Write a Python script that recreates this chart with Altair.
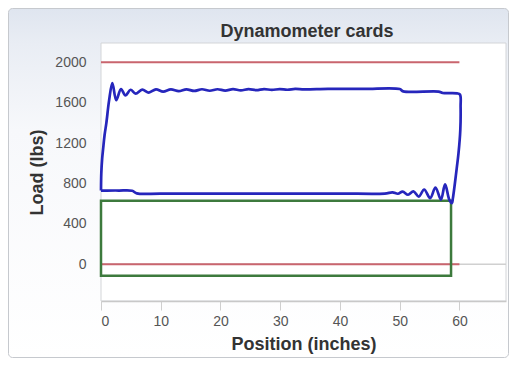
import altair as alt
import pandas as pd

# ---------------- data ----------------
title_text = "Dynamometer cards"
x_title = "Position (inches)"
y_title = "Load (lbs)"
x_ticks = [0, 10, 20, 30, 40, 50, 60]
y_ticks = [0, 400, 800, 1200, 1600, 2000]

# dynamometer card (closed loop, in drawing order)
card_x = [0.0, 0.05, 0.2, 0.35, 0.6, 0.9, 1.35, 1.9,
          2.55, 3.35, 4.1, 4.95, 5.8, 6.9, 8.0, 9.2, 10.4, 11.7, 13.0, 14.3,
          15.6, 16.9, 18.2, 19.5, 20.8, 22.1, 23.4, 24.7, 26.0, 27.3, 28.6,
          29.9, 31.2, 32.5, 34.0, 38.0, 44.0, 50.0, 50.6, 56.5, 57.2, 59.6,
          60.1, 60.2, 60.15, 59.85, 59.55, 59.2, 58.9, 58.75,
          58.3, 57.6, 56.9, 56.0, 55.1, 54.1, 53.2, 52.3, 51.4, 50.5, 49.7,
          48.8, 47.5, 40.0, 30.0, 20.0, 10.0, 6.0, 5.2, 3.0, 1.0, 0.0]
card_y = [730, 900, 1050, 1140, 1280, 1400, 1620, 1795,
          1625, 1735, 1672, 1728, 1690, 1730, 1700, 1732, 1710, 1732, 1714, 1732,
          1716, 1733, 1718, 1733, 1720, 1734, 1722, 1734, 1724, 1735, 1726,
          1735, 1728, 1736, 1732, 1736, 1736, 1735, 1712, 1710, 1696, 1692,
          1680, 1560, 1330, 1100, 950, 780, 650, 605,
          640, 790, 640, 760, 655, 740, 670, 722, 688, 720, 698,
          712, 700, 700, 700, 700, 700, 702, 728, 730, 730, 730]

limit_x = [0, 60]
limit_loads = [2000, 0]

box_x = [0, 58.6]
box_y = [-115, 630]

# ---------------- layout ----------------
W, H = 405, 258
PAD = {"left": 93, "top": 35, "right": 3, "bottom": 57}
X_DOMAIN = [0, 67.8]
Y_DOMAIN = [-364, 2191]
FONT = "Liberation Sans"

card = pd.DataFrame({"x": card_x, "y": card_y, "i": list(range(len(card_x)))})
limits = pd.DataFrame(
    [{"x": xv, "y": load, "g": str(load)} for load in limit_loads for xv in limit_x]
)
box = pd.DataFrame({"x": [box_x[0]], "x2": [box_x[1]], "y": [box_y[0]], "y2": [box_y[1]]})
one = pd.DataFrame({"a": [0]})
title_df = pd.DataFrame({"t": [title_text]})

xs = alt.Scale(domain=X_DOMAIN, nice=False, zero=False)
ys = alt.Scale(domain=Y_DOMAIN, nice=False, zero=False)

frame = alt.Chart(one).mark_rect(
    cornerRadius=4,
    stroke="#c6c9ce",
    strokeWidth=1,
    fill=alt.Gradient(
        gradient="linear",
        stops=[
            alt.GradientStop(color="#dfe5ef", offset=0),
            alt.GradientStop(color="#e9edf4", offset=0.1),
            alt.GradientStop(color="#f7f8fb", offset=0.35),
            alt.GradientStop(color="#ffffff", offset=1),
        ],
        x1=0, x2=0, y1=0, y2=1,
    ),
).encode(
    x=alt.value(-PAD["left"] + 0.5),
    x2=alt.value(W + PAD["right"] - 0.5),
    y=alt.value(-PAD["top"] + 0.5),
    y2=alt.value(H + PAD["bottom"] - 0.5),
)

plot_bg = alt.Chart(one).mark_rect(
    fill="#ffffff", stroke="#d3d5d8", strokeWidth=1
).encode(
    x=alt.value(0), x2=alt.value(W), y=alt.value(0), y2=alt.value(H)
)

title_mark = alt.Chart(title_df).mark_text(
    font=FONT, fontSize=18, fontWeight="bold", color="#333333",
    align="center", baseline="alphabetic",
).encode(x=alt.value(206), y=alt.value(-6), text="t:N")

zero_line = alt.Chart(one).mark_rule(color="#d0d0d0", strokeWidth=1.5).encode(
    x=alt.value(0), x2=alt.value(W), y=alt.datum(0, scale=ys)
)

base_x = alt.X(
    "x:Q", scale=xs, title=x_title,
    axis=alt.Axis(values=x_ticks, grid=False, zindex=1),
)
base_y = alt.Y(
    "y:Q", scale=ys, title=y_title,
    axis=alt.Axis(values=y_ticks, grid=False, zindex=1, format="d"),
)

red = alt.Chart(limits).mark_line(color="#c9656e", strokeWidth=2).encode(
    x=base_x, y=base_y, detail="g:N"
)

green = alt.Chart(box).mark_rect(
    fillOpacity=0, stroke="#3d7a3d", strokeWidth=2.5
).encode(x="x:Q", x2="x2:Q", y="y:Q", y2="y2:Q")

blue = alt.Chart(card).mark_line(
    color="#2626bc", strokeWidth=2.7, interpolate="catmull-rom"
).encode(x="x:Q", y="y:Q", order="i:Q")

chart = alt.layer(frame, plot_bg, title_mark, zero_line, red, green, blue).properties(
    width=W,
    height=H,
    padding=PAD,
    autosize=alt.AutoSizeParams(type="none"),
).configure_view(stroke=None).configure_axis(
    labelFont=FONT, labelFontSize=14, labelColor="#555555",
    titleFont=FONT, titleFontSize=18, titleFontWeight="bold", titleColor="#333333",
    domainColor="#c8c8c8", tickColor="#cfcfcf",
).configure_axisX(
    tickSize=9, labelPadding=4, titlePadding=7, domainWidth=1.5,
).configure_axisY(
    ticks=False, tickSize=0, domain=False, labelPadding=15, titlePadding=8,
)

chart.save("out.html", embed_options={"renderer": "svg", "actions": False})
